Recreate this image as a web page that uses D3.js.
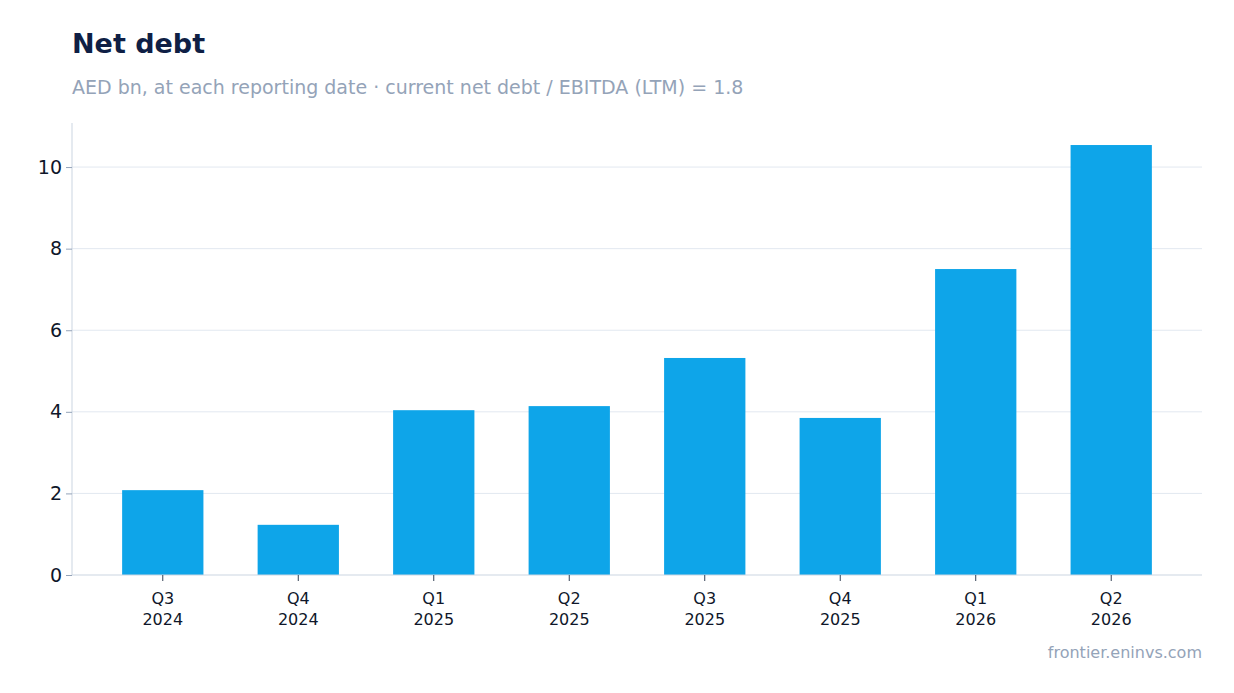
<!DOCTYPE html>
<html><head><meta charset="utf-8">
<script src="https://cdn.jsdelivr.net/npm/d3@7"></script>
<style>body{margin:0;background:#fff;font-family:"DejaVu Sans",sans-serif}</style>
</head><body><svg id="c" width="1234" height="693"></svg>
<script>
const quarters=["Q3","Q4","Q1","Q2","Q3","Q4","Q1","Q2"];
const years=["2024","2024","2025","2025","2025","2025","2026","2026"];
const values=[2.08,1.23,4.04,4.14,5.32,3.85,7.5,10.54];
const yTicks=[0,2,4,6,8,10];
const svg=d3.select("#c");
const L=72,R=1202,T=123,B=575;
const cats=quarters.map((q,i)=>q+" "+years[i]+"#"+i);
const x=d3.scaleBand().domain(cats).range([L,R]).paddingInner(0.4).paddingOuter(0.37);
const y=d3.scaleLinear().domain([0,11.08]).range([B,T]);
svg.append("text").attr("x",72).attr("y",53).attr("font-size",27).attr("font-weight","bold").attr("fill","#0f1f45").text("Net debt");
svg.append("text").attr("x",72).attr("y",94).attr("font-size",19).attr("fill","#94a3b8").text("AED bn, at each reporting date · current net debt / EBITDA (LTM) = 1.8");
svg.append("g").selectAll("line").data(yTicks.filter(d=>d>0)).join("line")
 .attr("x1",L).attr("x2",R).attr("y1",d=>y(d)).attr("y2",d=>y(d)).attr("stroke","#e2e8f0");
svg.append("g").selectAll("rect").data(values).join("rect")
 .attr("x",(d,i)=>x(cats[i])).attr("width",x.bandwidth()).attr("y",d=>y(d)).attr("height",d=>B-y(d)).attr("fill","#0ea5e9");
const ya=svg.append("g").attr("transform",`translate(${L},0)`).call(d3.axisLeft(y).tickValues(yTicks).tickSize(6).tickPadding(4));
ya.select(".domain").attr("stroke","#cbd5e1").attr("d",`M0,${T}V${B}`);
ya.selectAll(".tick line").attr("stroke","#94a3b8");
ya.selectAll("text").attr("font-size",19).attr("fill","#0f172a").attr("font-family","DejaVu Sans");
const xa=svg.append("g").attr("transform",`translate(0,${B})`).call(d3.axisBottom(x).tickSize(6).tickFormat(()=>""));
xa.select(".domain").attr("stroke","#cbd5e1").attr("d",`M${L},0H${R}`);
xa.selectAll(".tick line").attr("stroke","#334155");
xa.selectAll(".tick").each(function(d,i){
 const t=d3.select(this).append("text").attr("fill","#0f172a").attr("font-size",16).attr("text-anchor","middle").attr("font-family","DejaVu Sans");
 t.append("tspan").attr("x",0).attr("y",29).text(quarters[i]);
 t.append("tspan").attr("x",0).attr("y",50).text(years[i]);
});
svg.append("text").attr("x",1202).attr("y",658).attr("text-anchor","end").attr("font-size",16).attr("fill","#94a3b8").text("frontier.eninvs.com");
</script></body></html>
